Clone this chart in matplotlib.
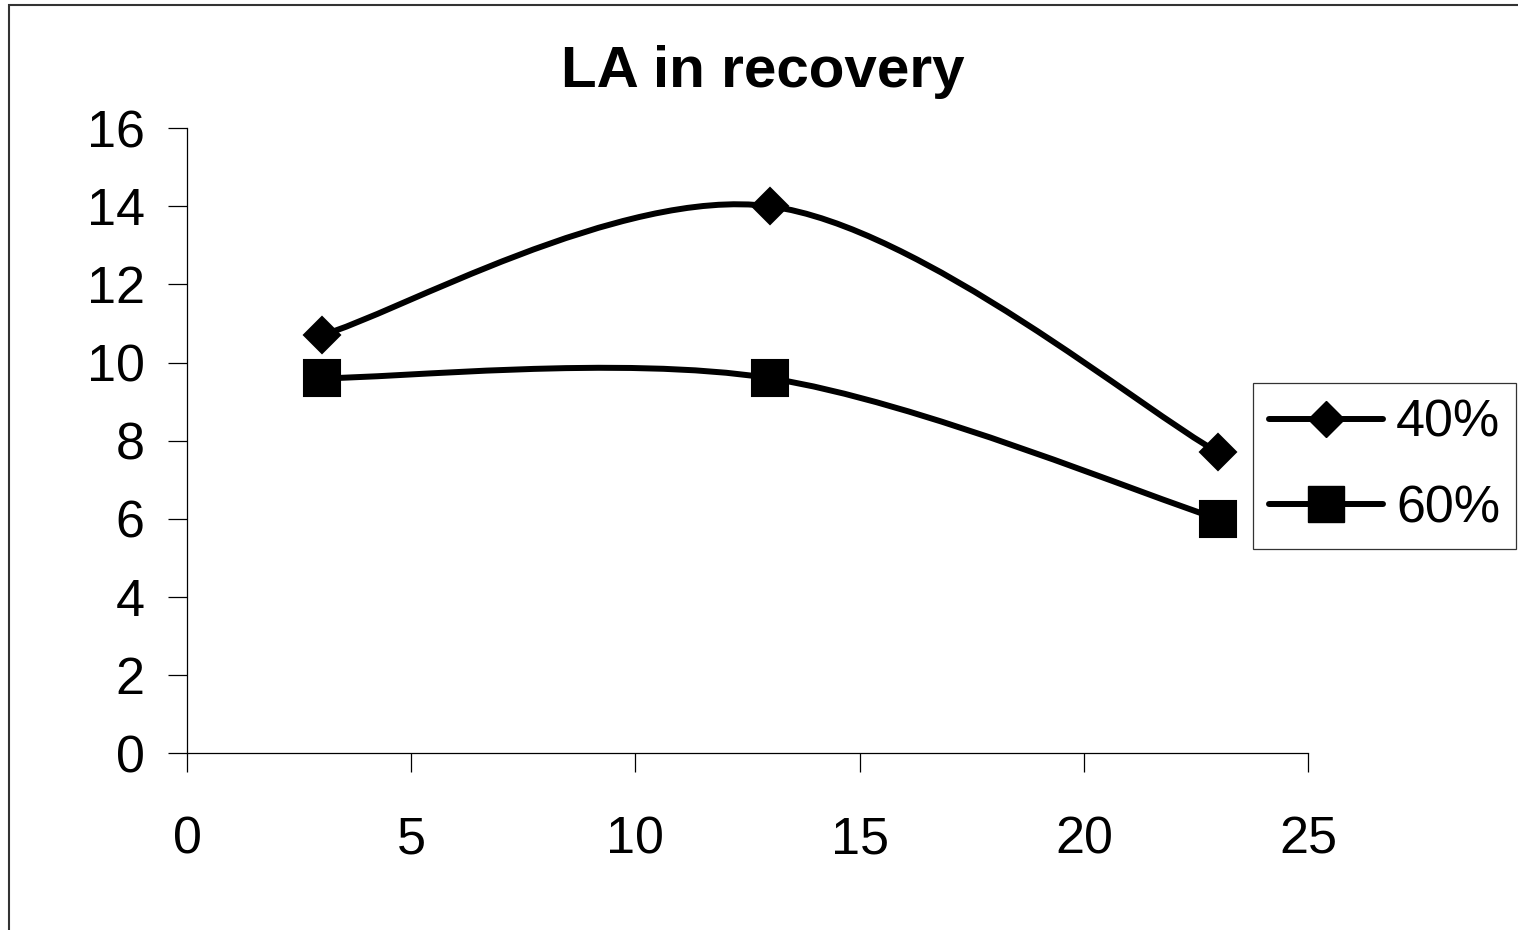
import numpy as np
import matplotlib.pyplot as plt
from matplotlib.path import Path
from matplotlib.patches import PathPatch, Rectangle
from matplotlib.lines import Line2D

plt.rcParams['font.family'] = ['Liberation Sans', 'DejaVu Sans']

# Datos
tiempo = [3, 13, 23]
la_40 = [10.7, 14.0, 7.7]
la_60 = [9.6, 9.6, 6.0]
etiquetas = ['40%', '60%']
marcadores = ['D', 's']
tam_marcador = [18.5, 26]


def curva_suave(x, y):
    # Bezier tipo Catmull-Rom (como las lineas suavizadas de Excel)
    p = np.column_stack([x, y]).astype(float)
    ext = np.vstack([p[0], p, p[-1]])
    verts = [p[0]]
    codes = [Path.MOVETO]
    for i in range(len(p) - 1):
        p0, p1, p2, p3 = ext[i], ext[i + 1], ext[i + 2], ext[i + 3]
        c1 = p1 + (p2 - p0) / 6.0
        c2 = p2 - (p3 - p1) / 6.0
        verts += [c1, c2, p2]
        codes += [Path.CURVE4] * 3
    return Path(verts, codes)


fig = plt.figure(figsize=(15.18, 9.30), dpi=100)
ax = fig.add_axes([0.1232, 0.1900, 0.7385, 0.6722])

for serie, m, ms in zip([la_40, la_60], marcadores, tam_marcador):
    ax.add_patch(PathPatch(curva_suave(tiempo, serie), fill=False,
                           edgecolor='black', lw=4.3, capstyle='round',
                           joinstyle='round', zorder=2))
    ax.plot(tiempo, serie, linestyle='none', marker=m, markersize=ms,
            color='black', markeredgewidth=1.5, zorder=3)

ax.set_xlim(0, 25)
ax.set_ylim(0, 16)
ax.set_xticks(np.arange(0, 26, 5))
ax.set_yticks(np.arange(0, 17, 2))
for s in ['top', 'right']:
    ax.spines[s].set_visible(False)
for s in ['left', 'bottom']:
    ax.spines[s].set_linewidth(0.9)
ax.tick_params(axis='both', direction='out', length=13.5, width=0.9,
               labelsize=37.5)
ax.tick_params(axis='x', pad=31)
ax.tick_params(axis='y', pad=17)

fig.text(0.5026, 0.906, 'LA in recovery', ha='center', va='baseline',
         fontsize=42, fontweight='bold')

manijas = [Line2D([], [], color='black', lw=4.3, marker=m, markersize=ms,
                  solid_capstyle='round')
           for m, ms in zip(marcadores, tam_marcador)]
leg = fig.legend(manijas, etiquetas, loc='upper left',
                 bbox_to_anchor=(0.8254, 0.5880), fontsize=37.5,
                 frameon=True, fancybox=False, edgecolor='black',
                 handlelength=2.2, handletextpad=0.25, borderpad=0.3,
                 labelspacing=0.7, borderaxespad=0)
leg.get_frame().set_linewidth(0.9)

# Marco de la figura (solo se ven los bordes superior e izquierdo)
fig.patches.append(Rectangle((0.0056, -0.02), 1.05, 0.9941 + 0.02,
                             transform=fig.transFigure, fill=False,
                             edgecolor='#333333', lw=1.5))

fig.savefig('out.png')
